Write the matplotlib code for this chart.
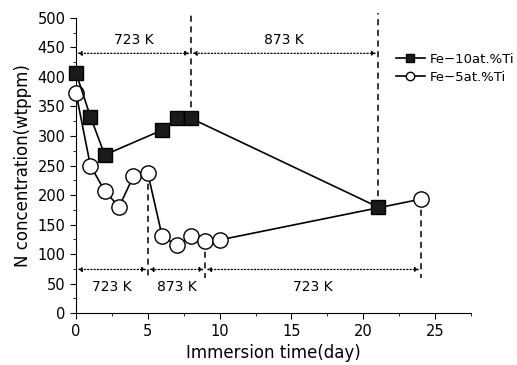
import matplotlib.pyplot as plt
from matplotlib.ticker import MultipleLocator

# --- data ---
t_ti10 = [0, 1, 2, 6, 7, 8, 21]
n_ti10 = [407, 333, 268, 310, 330, 330, 180]

t_ti5 = [0, 1, 2, 3, 4, 5, 6, 7, 8, 9, 10, 24]
n_ti5 = [373, 250, 207, 180, 232, 237, 130, 115, 130, 123, 124, 193]

# heat treatment periods (start, end, label) for each alloy
periods_ti10 = [(0, 8, "723 K"), (8, 21, "873 K")]
periods_ti5 = [(0, 5, "723 K"), (5, 9, "873 K"), (9, 24, "723 K")]

fig = plt.figure(figsize=(5.17, 3.65), dpi=100)
ax = fig.add_axes([0.147, 0.142, 0.764, 0.809])

ax.plot(t_ti10, n_ti10, color='black', lw=1.2, marker='s', ms=10,
        mfc='#1a1a1a', mec='black', label='Fe\u221210at.%Ti', zorder=4,
        clip_on=False)
ax.plot(t_ti5, n_ti5, color='black', lw=1.2, marker='o', ms=11,
        mfc='white', mec='black', label='Fe\u22125at.%Ti', zorder=3,
        clip_on=False)

# vertical dashed lines marking temperature changes
dash = dict(ls=(0, (4, 3)), color='black', lw=1.1, zorder=2)
ax.plot([8, 8], [330, 508], clip_on=False, **dash)
ax.plot([21, 21], [180, 508], clip_on=False, **dash)
ax.plot([5, 5], [237, 57], **dash)
ax.plot([9, 9], [123, 60], **dash)
ax.plot([24, 24], [193, 60], **dash)

arrow = dict(arrowstyle='<|-|>', color='black', lw=0.9, ls=':',
             mutation_scale=6, shrinkA=1, shrinkB=1)
for a, b, lab in periods_ti10:
    ax.annotate('', xy=(a, 440), xytext=(b, 440), arrowprops=arrow)
    ax.text((a + b) / 2, 462, lab, ha='center', va='center', fontsize=10)
for a, b, lab in periods_ti5:
    ax.annotate('', xy=(a, 74), xytext=(b, 74), arrowprops=arrow)
    ax.text((a + b) / 2, 44, lab, ha='center', va='center', fontsize=10)

ax.set_xlim(0, 27.5)
ax.set_ylim(0, 500)
ax.xaxis.set_major_locator(MultipleLocator(5))
ax.xaxis.set_minor_locator(MultipleLocator(2.5))
ax.yaxis.set_major_locator(MultipleLocator(50))
ax.yaxis.set_minor_locator(MultipleLocator(25))
ax.tick_params(which='both', direction='out', labelsize=10.5)
ax.tick_params(which='major', length=4)
ax.tick_params(which='minor', length=2.5)
ax.spines['top'].set_visible(False)
ax.spines['right'].set_visible(False)

ax.set_xlabel('Immersion time(day)', fontsize=12)
ax.set_ylabel('N concentration(wtppm)', fontsize=12)

fig.legend(loc='upper left', bbox_to_anchor=(0.755, 0.87), frameon=False,
           fontsize=9.5, markerscale=0.55, handlelength=2.2,
           handletextpad=0.4, labelspacing=0.4, borderaxespad=0)

plt.savefig("out.png")
